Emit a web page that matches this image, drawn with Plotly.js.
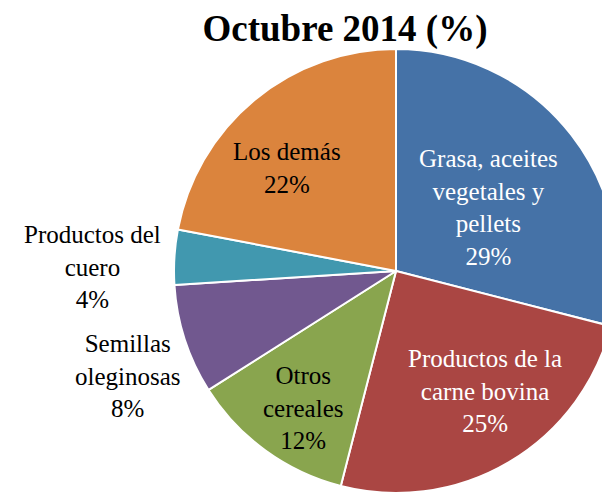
<!DOCTYPE html>
<html>
<head>
<meta charset="utf-8">
<script src="https://cdn.plot.ly/plotly-3.0.1.min.js"></script>
<style>
  html, body { margin: 0; padding: 0; overflow: hidden; background: #fff; }
  #graph { width: 640px; height: 494px; }
</style>
</head>
<body>
<div id="graph"></div>
<script>
// categories and their share, clockwise from 12 o'clock
var categories = ['Grasa, aceites vegetales y pellets', 'Productos de la carne bovina',
                  'Otros cereales', 'Semillas oleginosas', 'Productos del cuero', 'Los demás'];
var shares = [29, 25, 12, 8, 4, 22];
// how each label is broken into lines
var labelLines = [
    ['Grasa, aceites', 'vegetales y', 'pellets'],
    ['Productos de la', 'carne bovina'],
    ['Otros', 'cereales'],
    ['Semillas', 'oleginosas'],
    ['Productos del', 'cuero'],
    ['Los demás']
];
var sliceColors = ['#4572a7', '#aa4643', '#89a54e', '#71588f', '#4198af', '#db843d'];

var W = 640, H = 494;
var serif = "'Liberation Serif', serif";

// label centres in pixels and text colour
var labelPos = [[488, 207], [485, 391], [303, 408], [128, 376], [92, 267], [287, 168]];
var labelColor = ['#ffffff', '#ffffff', '#000000', '#000000', '#000000', '#000000'];

function drawGraph() {
    var cx = 396, cy = 271, r = 222;

    var trace = {
        type: 'pie',
        labels: categories,
        values: shares,
        sort: false,
        direction: 'clockwise',
        rotation: 0,
        textinfo: 'none',
        hoverinfo: 'label+percent',
        showlegend: false,
        marker: { colors: sliceColors, line: { color: '#ffffff', width: 2 } },
        domain: {
            x: [(cx - r) / W, (cx + r) / W],
            y: [1 - (cy + r) / H, 1 - (cy - r) / H]
        }
    };

    var annotations = [];
    for (var i = 0; i < categories.length; i++) {
        annotations.push({
            xref: 'paper', yref: 'paper',
            x: labelPos[i][0] / W, y: 1 - labelPos[i][1] / H,
            xanchor: 'center', yanchor: 'middle',
            showarrow: false,
            align: 'center',
            text: labelLines[i].join('<br>') + '<br>' + shares[i] + '%',
            font: { family: serif, size: 25, color: labelColor[i] }
        });
    }

    var layout = {
        width: W, height: H,
        margin: { l: 0, r: 0, t: 0, b: 0 },
        paper_bgcolor: '#ffffff',
        title: {
            text: '<b>Octubre 2014 (%)</b>',
            font: { family: serif, size: 37, color: '#000000' },
            xref: 'paper', x: 345 / W, xanchor: 'center',
            yref: 'container', y: 1 - 28 / H, yanchor: 'middle'
        },
        annotations: annotations
    };

    Plotly.newPlot('graph', [trace], layout, { displayModeBar: false, staticPlot: true });
}

drawGraph();
</script>
</body>
</html>
